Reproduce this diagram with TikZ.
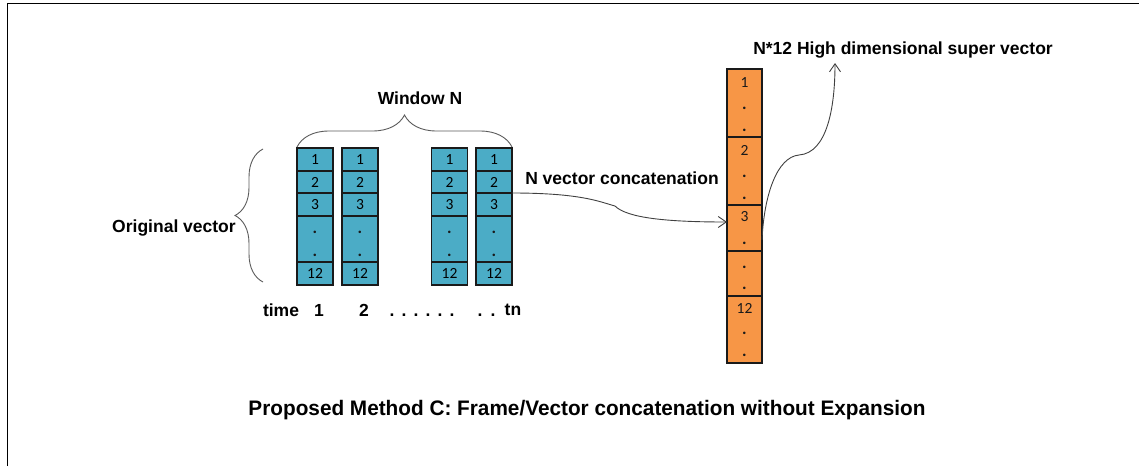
\documentclass[tikz,border=0pt]{standalone}
\usepackage{fontspec}
\usepackage{graphicx}
\setmainfont{Liberation Sans}
\newfontfamily\numfont{Carlito}
\usetikzlibrary{arrows.meta,decorations.pathreplacing}

\definecolor{cellblue}{HTML}{4BACC6}
\definecolor{cellorange}{HTML}{F79646}
\definecolor{edgedark}{HTML}{1A1A1A}
\definecolor{wire}{HTML}{404040}
\definecolor{bracegray}{HTML}{5A5A5A}

\tikzset{
  x=1pt, y=1pt,
  label text/.style={font=\fontsize{17.5}{21}\selectfont\bfseries, text=black, inner sep=0pt},
  bcell/.style={draw=edgedark, line width=1.6pt, fill=cellblue, minimum width=36pt,
                inner sep=0pt, outer sep=0pt, font=\numfont\fontsize{15.5}{18}\selectfont},
  ocell/.style={draw=edgedark, line width=1.4pt, fill=cellorange, minimum width=35pt,
                inner sep=0pt, outer sep=0pt},
  num/.style={font=\numfont\fontsize{15.5}{18}\selectfont, text=edgedark, inner sep=0pt},
  dotmark/.style={num, font=\numfont\fontsize{17}{18}\selectfont\bfseries, anchor=base},
  curly/.style={draw=bracegray, line width=0.9pt, decorate},
  link/.style={draw=wire, line width=0.9pt, -{Straight Barb[length=8pt,width=11pt]}},
}

\begin{document}
\begin{tikzpicture}
\useasboundingbox (0,0) rectangle (1139,-466);

% page frame (top and left edges)
\draw[line width=1pt, black] (7,-466) -- (7,-3.5) -- (1139,-3.5);

% four feature vectors of the window
\foreach \c/\x in {1/315,2/360,3/449.5,4/494}{
  \node[bcell, minimum height=23pt] (b\c-1) at (\x,-159.5) {1};
  \node[bcell, minimum height=22pt] (b\c-2) at (\x,-182)   {2};
  \node[bcell, minimum height=23pt] (b\c-3) at (\x,-204.5) {3};
  \node[bcell, minimum height=46pt] (b\c-4) at (\x,-239)   {};
  \node[bcell, minimum height=23pt] (b\c-5) at (\x,-273.5) {12};
  \node[dotmark] (b\c-d1) at (\x,-233.5) {.};
  \node[dotmark] (b\c-d2) at (\x,-256.5) {.};
}

% concatenated super vector
\node[ocell, minimum height=68pt] (o1) at (744.5,-103)   {};
\node[ocell, minimum height=68pt] (o2) at (744.5,-171)   {};
\node[ocell, minimum height=46pt] (o3) at (744.5,-228)   {};
\node[ocell, minimum height=45pt] (o4) at (744.5,-273.5) {};
\node[ocell, minimum height=67pt] (o5) at (744.5,-329.5) {};

\node[num] (o1-n) at (744.5,-83)  {1};
\node[dotmark] (o1-d1) at (744.5,-109.5) {.};
\node[dotmark] (o1-d2) at (744.5,-131.5) {.};
\node[num] (o2-n) at (744.5,-150) {2};
\node[dotmark] (o2-d1) at (744.5,-177.5) {.};
\node[dotmark] (o2-d2) at (744.5,-199.5) {.};
\node[num] (o3-n) at (744.5,-217) {3};
\node[dotmark] (o3-d1) at (744.5,-244.5) {.};
\node[dotmark] (o4-d1) at (744.5,-268.5) {.};
\node[dotmark] (o4-d2) at (744.5,-289.5) {.};
\node[num] (o5-n) at (744.5,-308) {12};
\node[dotmark] (o5-d1) at (744.5,-334.5) {.};
\node[dotmark] (o5-d2) at (744.5,-356.5) {.};

% braces
\draw[curly, decoration={brace, amplitude=32pt, aspect=0.5}] (297,-147) -- (512,-147);
\draw[curly, decoration={brace, amplitude=28pt, aspect=0.5}] (263,-282) -- (263,-149);

% labels
\node[label text] (win)  at (420,-98)  {Window N};
\node[label text] (orig) at (174,-228) {Original vector};
\node[label text] (conc) at (622,-178) {N vector concatenation};
\node[label text] (sup)  at (903,-50)  {N*12 High dimensional super vector};

% time axis
\node[label text] (t0) at (281,-310) {time};
\node[label text] (t1) at (319,-310) {1};
\node[label text] (t2) at (364,-310) {2};
\foreach \k/\x in {1/392,2/404,3/416,4/428,5/440,6/452,7/480,8/493}{
  \node[label text, anchor=base] (td\k) at (\x,-316) {.};
}
\node[label text] (tn) at (513,-310) {tn};

% connectors
\coordinate (svtip) at (835,-63);
\draw[link] (b4-3.north east) .. controls +(70,0) and +(-15,4) .. +(103,-13)
            .. controls +(12,-12) and +(-60,0) .. ([yshift=6pt]o3.west);
\draw[link] ([yshift=-12pt]o3.east) .. controls +(2,45) and +(-22,-2) .. +(37,85)
            .. controls +(28,2) and +(0,-45) .. (svtip);

% caption
\node[label text] (cap) at (587,-410)
  {\resizebox{677pt}{\height}{\fontsize{21}{25}\selectfont\bfseries Proposed Method C: Frame/Vector concatenation without Expansion}};
\end{tikzpicture}
\end{document}
